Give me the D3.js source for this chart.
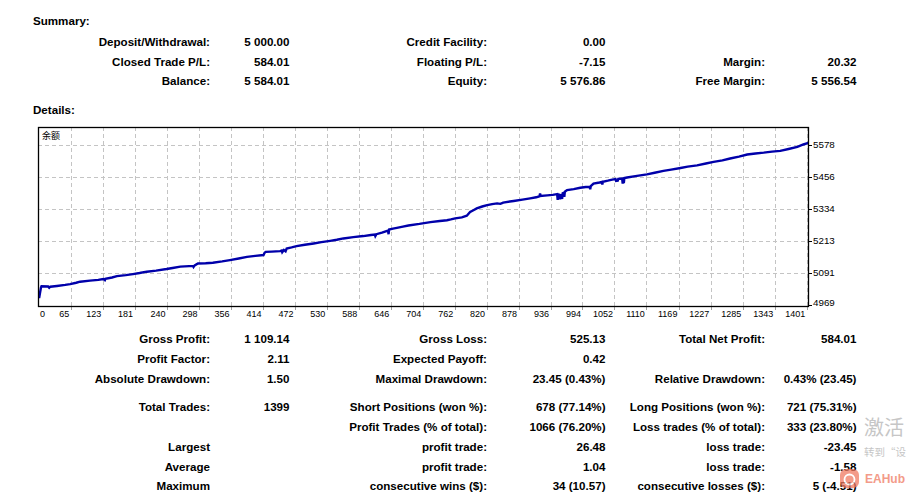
<!DOCTYPE html>
<html><head><meta charset="utf-8">
<script src="https://cdn.jsdelivr.net/npm/d3@7/dist/d3.min.js"></script>
<style>
body{margin:0;background:#fff;}
svg{display:block;}
.t{font-family:Tahoma,'Liberation Sans',Arial,sans-serif;font-weight:bold;font-size:11.6px;fill:#000;}
.ax{font-family:Tahoma,'Liberation Sans',Arial,sans-serif;font-size:9px;fill:#000;}
.ay{font-family:Tahoma,'Liberation Sans',Arial,sans-serif;font-size:9.8px;fill:#000;}
</style>
</head><body>
<svg id="c" width="910" height="493"></svg>
<script>
// ---- data ----
const trades  = [0,8,9,11,12,24,26,28,40,55,64,75,82,100,115,124,127,128,140,149,165,178,190,203,220,239,250,264,280,287,288,290,296,310,323,340,354,370,385,400,415,417,419,430,445,448,449,452,455,457,466,475,490,506,520,536,548,560,578,596,610,617,618,620,630,641,642,643,650,657,668,678,698,718,735,748,755,763,775,784,790,796,802,812,821,830,839,845,850,869,885,899,910,916,917,918,930,940,948,949,950,952,953,954,957,958,960,961,962,966,978,990,1000,1007,1008,1009,1014,1025,1029,1030,1031,1040,1048,1054,1055,1058,1059,1066,1067,1068,1069,1070,1075,1090,1111,1125,1141,1155,1172,1185,1202,1218,1232,1248,1262,1278,1293,1308,1323,1338,1353,1368,1384,1395,1404];
const balance = [5000,5000,5012,5036,5041,5040,5035,5039,5042,5046,5049,5054,5058,5062,5065,5068,5064,5069,5074,5079,5083,5087,5091,5096,5100,5106,5110,5115,5117,5118,5114,5120,5127,5128,5130,5135,5140,5146,5152,5156,5159,5168,5171,5172,5174,5176,5170,5178,5173,5184,5188,5193,5198,5203,5208,5213,5217,5222,5227,5231,5235,5237,5231,5238,5244,5252,5238,5256,5259,5262,5267,5271,5277,5284,5288,5291,5294,5298,5302,5308,5322,5329,5336,5343,5348,5352,5355,5353,5358,5364,5369,5374,5378,5382,5392,5383,5385,5387,5390,5368,5389,5388,5370,5390,5372,5393,5395,5380,5399,5405,5409,5414,5417,5418,5408,5420,5430,5434,5436,5426,5437,5441,5445,5447,5440,5441,5448,5449,5430,5449,5432,5451,5453,5458,5465,5471,5478,5483,5489,5494,5499,5506,5512,5518,5525,5532,5540,5544,5547,5551,5554,5561,5569,5578,5584.01];
const xTicks = [0,65,123,181,240,298,356,414,472,530,588,646,704,762,820,878,936,994,1052,1110,1169,1227,1285,1343,1401];
const yTicks = [4969,5091,5213,5334,5456,5578];
const seriesName = "余额";

const summaryRows = [
  ["Deposit/Withdrawal:","5 000.00","Credit Facility:","0.00","",""],
  ["Closed Trade P/L:","584.01","Floating P/L:","-7.15","Margin:","20.32"],
  ["Balance:","5 584.01","Equity:","5 576.86","Free Margin:","5 556.54"]
];
const detailRows = [
  ["Gross Profit:","1 109.14","Gross Loss:","525.13","Total Net Profit:","584.01"],
  ["Profit Factor:","2.11","Expected Payoff:","0.42","",""],
  ["Absolute Drawdown:","1.50","Maximal Drawdown:","23.45 (0.43%)","Relative Drawdown:","0.43% (23.45)"],
  ["Total Trades:","1399","Short Positions (won %):","678 (77.14%)","Long Positions (won %):","721 (75.31%)"],
  ["","","Profit Trades (% of total):","1066 (76.20%)","Loss trades (% of total):","333 (23.80%)"],
  ["Largest","","profit trade:","26.48","loss trade:","-23.45"],
  ["Average","","profit trade:","1.04","loss trade:","-1.58"],
  ["Maximum","","consecutive wins ($):","34 (10.57)","consecutive losses ($):","5 (-4.51)"]
];

// ---- layout ----
const svg = d3.select("#c");
const box = {l:38, t:127, r:809, b:307};
const colX = [210, 289.5, 487, 605.5, 765, 856.5];
const summaryY = [42, 61.5, 81];
const detailY = [339, 359, 378.5, 407, 427, 447, 466.5, 486];

function drawRows(rows, ys){
  rows.forEach((row,i)=>{
    row.forEach((txt,j)=>{
      if(!txt) return;
      svg.append("text").attr("class","t")
        .attr("x",colX[j]).attr("y",ys[i]).attr("dy","0.35em")
        .attr("text-anchor","end").text(txt);
    });
  });
}
svg.append("text").attr("class","t").attr("x",33).attr("y",21).attr("dy","0.35em").text("Summary:");
svg.append("text").attr("class","t").attr("x",33).attr("y",110).attr("dy","0.35em").text("Details:");
drawRows(summaryRows, summaryY);
drawRows(detailRows, detailY);

// ---- chart ----
const x = d3.scaleLinear().domain([0,1401]).range([34.9, 806.7]);
const y = d3.scaleLinear().domain([4969,5578]).range([305.2, 144.5]);

svg.append("defs").append("clipPath").attr("id","clip")
  .append("rect").attr("x",box.l).attr("y",box.t).attr("width",box.r-box.l).attr("height",box.b-box.t);

const g = svg.append("g");
// horizontal grid
g.selectAll(".hg").data(yTicks.slice(1)).enter().append("line")
  .attr("x1",box.l).attr("x2",box.r).attr("y1",d=>Math.round(y(d))+0.5).attr("y2",d=>Math.round(y(d))+0.5)
  .attr("stroke","#c4c4c4").attr("stroke-dasharray","4,3");
// vertical grid
g.selectAll(".vg").data(xTicks.slice(1)).enter().append("line")
  .attr("x1",d=>Math.round(x(d))+0.5).attr("x2",d=>Math.round(x(d))+0.5)
  .attr("y1",box.t).attr("y2",box.b)
  .attr("stroke","#c4c4c4").attr("stroke-dasharray","4,3");
// bottom ticks
g.selectAll(".bt").data(xTicks.slice(1)).enter().append("line")
  .attr("x1",d=>Math.round(x(d))+0.5).attr("x2",d=>Math.round(x(d))+0.5)
  .attr("y1",box.b).attr("y2",box.b+3).attr("stroke","#a0a0a0");
// right ticks
g.selectAll(".rt").data(yTicks).enter().append("line")
  .attr("x1",box.r).attr("x2",box.r+3).attr("y1",d=>Math.round(y(d))+0.5).attr("y2",d=>Math.round(y(d))+0.5)
  .attr("stroke","#000");

// line
const pts = trades.map((t,i)=>[t,balance[i]]);
g.append("path").datum(pts).attr("clip-path","url(#clip)")
  .attr("fill","none").attr("stroke","#0000aa").attr("stroke-width",2.4).attr("stroke-linejoin","miter")
  .attr("d", d3.line().x(d=>x(d[0])).y(d=>y(d[1])));

// frame
g.append("rect").attr("x",box.l+0.5).attr("y",box.t+0.5).attr("width",box.r-box.l-1).attr("height",box.b-box.t-1)
  .attr("fill","none").attr("stroke","#000").attr("stroke-width",1.3);

// axis labels
g.selectAll(".xl").data(xTicks).enter().append("text").attr("class","ax")
  .attr("x",(d,i)=> i===0 ? box.l+2 : x(d)-1.5)
  .attr("y",box.b+7).attr("dy","0.35em")
  .attr("text-anchor",(d,i)=> i===0 ? "start":"end").text(d=>d);
g.selectAll(".yl").data(yTicks).enter().append("text").attr("class","ay")
  .attr("x",box.r+4).attr("y",d=>Math.min(y(d),303)).attr("dy","0.35em")
  .attr("text-anchor","start").text(d=>d);

// legend
g.append("text").attr("x",42).attr("y",136).attr("dy","0.35em")
  .style("font-family","'Noto Sans CJK SC',sans-serif").style("font-size","9px").text(seriesName);

// watermark overlays present in screenshot
svg.append("text").attr("x",864).attr("y",428).attr("dy","0.35em")
  .style("font-family","'Noto Sans CJK SC',sans-serif").style("font-size","20px").style("fill","#c6c6c6").text("激活");
svg.append("text").attr("x",864).attr("y",452).attr("dy","0.35em")
  .style("font-family","'Noto Sans CJK SC',sans-serif").style("font-size","10.5px").style("fill","#c6c6c6").text("转到“设");
const lg = svg.append("g").attr("opacity",0.75);
lg.append("rect").attr("x",840).attr("y",469).attr("width",19).attr("height",19).attr("rx",6).attr("fill","#f07a62");
lg.append("circle").attr("cx",849.5).attr("cy",479.5).attr("r",5).attr("fill","none").attr("stroke","#fff").attr("stroke-width",1.8);
lg.append("text").attr("x",865).attr("y",479).attr("dy","0.35em")
  .style("font-family","'Liberation Sans',Arial,sans-serif").style("font-weight","bold").style("font-size","12px").style("fill","#f07a62").text("EAHub");
</script>
</body></html>
